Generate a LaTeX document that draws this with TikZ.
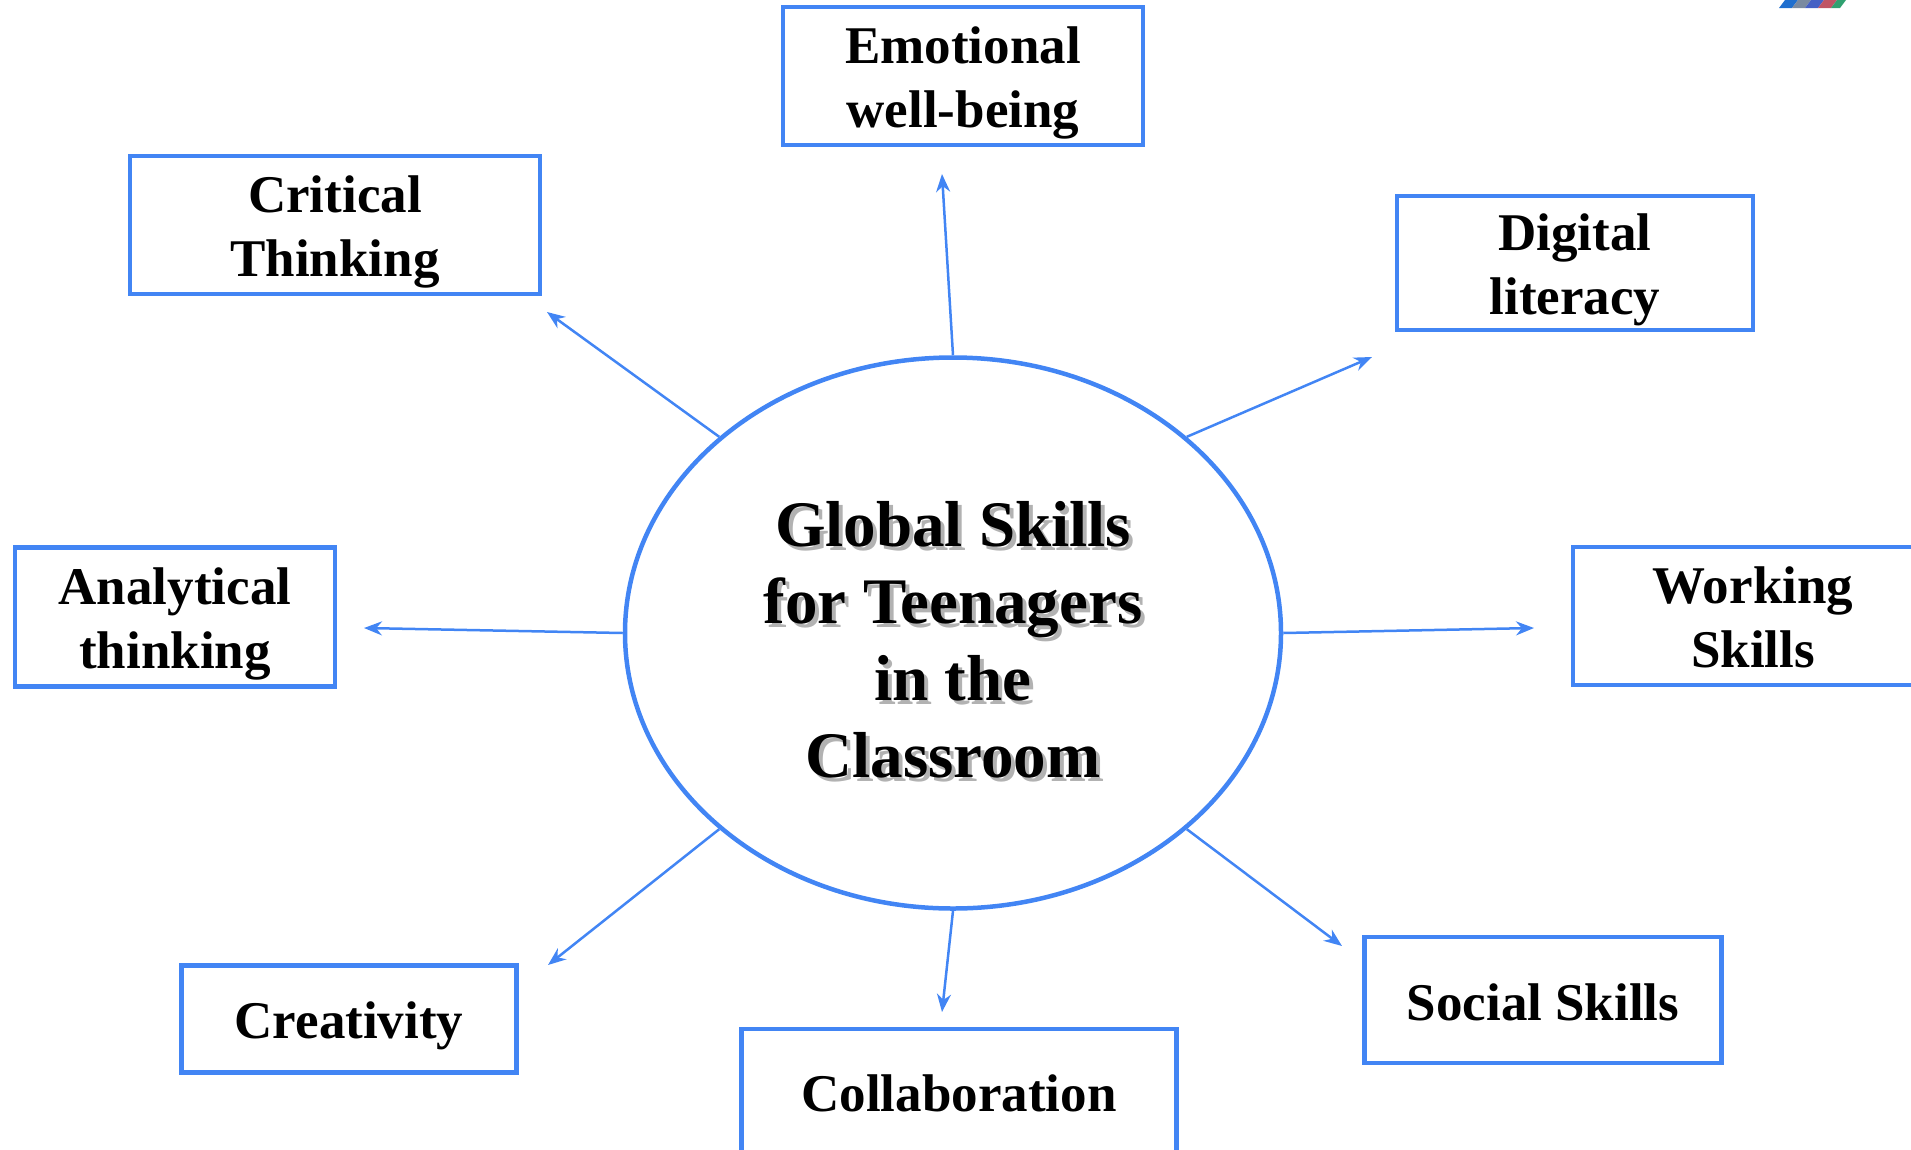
\documentclass[tikz,border=0pt]{standalone}
\usepackage{fontspec}
\setmainfont{Liberation Serif}
\usepackage{xcolor}
\definecolor{colorLine}{RGB}{66,133,244}
\colorlet{colorShadow}{black!30}
\definecolor{colorLogoA}{RGB}{31,111,207}
\definecolor{colorLogoB}{RGB}{122,138,160}
\definecolor{colorLogoC}{RGB}{70,96,196}
\definecolor{colorLogoD}{RGB}{192,84,100}
\definecolor{colorLogoE}{RGB}{48,160,112}
\usepackage{tikz}
\usetikzlibrary{arrows.meta, shapes.geometric, positioning}
\newcommand{\boxstrut}{\rule{0pt}{51pt}}
\newcommand{\boxdepth}{\rule[-11.5pt]{0pt}{0pt}}
\newcommand{\hubstrut}{\rule{0pt}{58pt}}
\tikzset{skillbox/.style={rectangle, draw=colorLine, line width=4.5pt, align=center, inner sep=0pt, font=\fontsize{53}{64}\selectfont\bfseries}}
\tikzset{hubtext/.style={align=center, inner sep=0pt, font=\fontsize{65}{77}\selectfont\bfseries}}

\begin{document}
\begin{tikzpicture}[x=1pt, y=-1pt, >={Stealth[length=18pt,width=14pt]}, line width=2.5pt]
\useasboundingbox (0,0) rectangle (1911,1149);
\fill[colorLogoA] (1779,8) -- (1785,0) -- (1798,0) -- (1792,8) -- cycle;
\fill[colorLogoB] (1792,8) -- (1798,0) -- (1811,0) -- (1805,8) -- cycle;
\fill[colorLogoC] (1805,8) -- (1811,0) -- (1824,0) -- (1818,8) -- cycle;
\fill[colorLogoD] (1818,8) -- (1824,0) -- (1837,0) -- (1831,8) -- cycle;
\fill[colorLogoE] (1831,8) -- (1837,0) -- (1846,0) -- (1840,8) -- cycle;
\node[hubtext, text=colorShadow] (gsshadow) at (957,637) {\hubstrut Global Skills\\for Teenagers\\in the\\Classroom};
\node[hubtext, ellipse, draw=colorLine, line width=4.5pt, minimum width=656pt, minimum height=551pt] (gs) at (953,633) {\hubstrut Global Skills\\for Teenagers\\in the\\Classroom};
\node[skillbox, minimum width=360pt, minimum height=138pt] (emo) at (963,76) {\boxstrut Emotional\\well-being};
\node[skillbox, minimum width=410pt, minimum height=138pt] (crit) at (335,225) {\boxstrut Critical\\Thinking};
\node[skillbox, minimum width=356pt, minimum height=134pt] (dig) at (1575,263) {\boxstrut Digital\\literacy};
\node[skillbox, minimum width=320pt, minimum height=139pt] (ana) at (175,617) {\boxstrut Analytical\\thinking};
\node[skillbox, minimum width=360pt, minimum height=138pt] (work) at (1753,616) {\boxstrut Working\\Skills\boxdepth};
\node[skillbox, minimum width=335pt, minimum height=107pt] (crea) at (349,1019) {\boxstrut Creativity};
\node[skillbox, minimum width=435pt, minimum height=128pt] (coll) at (959,1093) {Collaboration};
\node[skillbox, minimum width=357pt, minimum height=126pt] (soc) at (1543,1000) {\rule{0pt}{41pt}Social Skills};
\coordinate (emotip) at (942,174);
\coordinate (crittip) at (547,312);
\coordinate (digtip) at (1372,357);
\coordinate (anatip) at (364,628);
\coordinate (worktip) at (1534,628);
\coordinate (creatip) at (548,965);
\coordinate (colltip) at (942,1012);
\coordinate (soctip) at (1342,946);
\draw[->, colorLine] (gs.north) -- (emotip);
\draw[->, colorLine] (gs.140) -- (crittip);
\draw[->, colorLine] (gs.40) -- (digtip);
\draw[->, colorLine] (gs.west) -- (anatip);
\draw[->, colorLine] (gs.east) -- (worktip);
\draw[->, colorLine] (gs.220) -- (creatip);
\draw[->, colorLine] (gs.south) -- (colltip);
\draw[->, colorLine] (gs.320) -- (soctip);
\end{tikzpicture}
\end{document}
